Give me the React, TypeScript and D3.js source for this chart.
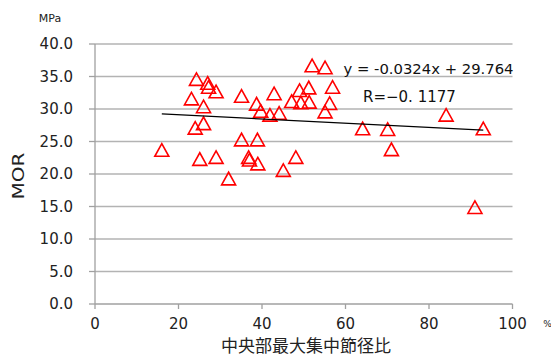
import React from "react";
import * as d3 from "d3";

// Knot diameter ratio at mid-span (%) vs. modulus of rupture (MPa)
const knotRatio = [
  16.0, 23.1, 24.3, 24.0, 25.1, 26.0, 26.0, 27.0, 27.2, 29.0,
  29.0, 32.0, 35.1, 35.1, 36.8, 37.0, 38.9, 39.0, 38.7, 39.7,
  41.9, 42.9, 44.1, 45.1, 47.1, 48.1, 49.0, 49.3, 51.2, 51.3,
  52.0, 55.1, 56.9, 56.2, 55.1, 64.1, 70.1, 71.0, 84.1, 93.0,
  91.0,
];
const mor = [
  23.7, 31.6, 34.6, 27.1, 22.3, 30.4, 27.8, 34.0, 33.4, 32.7,
  22.6, 19.3, 32.0, 25.3, 22.6, 22.2, 25.3, 21.6, 30.8, 29.7,
  29.1, 32.4, 29.4, 20.6, 31.2, 22.6, 32.9, 31.0, 33.3, 31.1,
  36.7, 36.4, 33.4, 30.9, 29.6, 27.0, 26.9, 23.8, 29.1, 27.0,
  14.9,
];

const xTicks = [0, 20, 40, 60, 80, 100];
const yTicks = [0, 5, 10, 15, 20, 25, 30, 35, 40];

const SLOPE = -0.0324;
const INTERCEPT = 29.764;
const equationText = "y = -0.0324x + 29.764";
const rText = "R=\u22120. 1177";
const xTitle = "中央部最大集中節径比";
const yTitle = "MOR";
const yUnit = "MPa";
const xUnit = "%";

const W = 551;
const H = 356;
const left = 95;
const right = 512.5;
const top = 44;
const bottom = 304;

const font = "'DejaVu Sans', sans-serif";
const gridColor = "#b3b3b3";
const axisColor = "#a0a0a0";

export default function App() {
  const x = d3.scaleLinear().domain([0, 100]).range([left, right]);
  const y = d3.scaleLinear().domain([0, 40]).range([bottom, top]);

  const points = knotRatio.map((v, i) => ({ x: v, y: mor[i] }));
  const [xMin, xMax] = d3.extent(knotRatio) as [number, number];
  const trend = d3
    .line<number>()
    .x((v) => x(v))
    .y((v) => y(SLOPE * v + INTERCEPT))([xMin, xMax]);

  // Outline triangle marker centred on its bounding box
  const tw = 7;
  const th = 6.3;
  const tri = (cx: number, cy: number) => {
    const p = d3.path();
    p.moveTo(cx, cy - th);
    p.lineTo(cx + tw, cy + th);
    p.lineTo(cx - tw, cy + th);
    p.closePath();
    return p.toString();
  };

  return (
    <svg
      width={W}
      height={H}
      style={{ position: "absolute", left: 0, top: 0, background: "#fff" }}
    >
      {/* horizontal gridlines */}
      {yTicks
        .filter((t) => t > 0)
        .map((t) => (
          <line
            key={"g" + t}
            x1={x(0)}
            x2={x(100)}
            y1={y(t)}
            y2={y(t)}
            stroke={gridColor}
            strokeWidth={1.3}
          />
        ))}
      {/* y axis */}
      <line x1={left} x2={left} y1={y(40)} y2={y(0)} stroke={axisColor} strokeWidth={1.3} />
      {yTicks.map((t) => (
        <g key={"yt" + t}>
          <line x1={left - 6} x2={left} y1={y(t)} y2={y(t)} stroke={axisColor} strokeWidth={1.3} />
          <text
            x={73}
            y={y(t)}
            dy="0.36em"
            textAnchor="end"
            fontFamily={font}
            fontSize={15}
            fill="#222"
          >
            {t.toFixed(1)}
          </text>
        </g>
      ))}
      {/* x axis */}
      <line x1={x(0)} x2={x(100)} y1={bottom} y2={bottom} stroke={axisColor} strokeWidth={1.3} />
      {xTicks.map((t) => (
        <g key={"xt" + t}>
          <line x1={x(t)} x2={x(t)} y1={bottom} y2={bottom + 5} stroke={axisColor} strokeWidth={1.3} />
          <text
            x={x(t)}
            y={323.5}
            dy="0.36em"
            textAnchor="middle"
            fontFamily={font}
            fontSize={15}
            fill="#222"
          >
            {t}
          </text>
        </g>
      ))}
      <text x={547.5} y={324} dy="0.36em" textAnchor="middle" fontFamily={font} fontSize={9} fill="#222">
        {xUnit}
      </text>
      <text x={50} y={18.5} dy="0.36em" textAnchor="middle" fontFamily={font} fontSize={11} fill="#222">
        {yUnit}
      </text>

      {/* axis titles */}
      <text
        x={306}
        y={346}
        dy="0.36em"
        textAnchor="middle"
        fontFamily="'Noto Sans CJK JP', sans-serif"
        fontSize={17}
        fill="#222"
      >
        {xTitle}
      </text>
      <text
        transform={`translate(18.5,176) rotate(-90)`}
        dy="0.36em"
        textAnchor="middle"
        fontFamily={font}
        fontSize={16}
        textLength={47}
        lengthAdjust="spacingAndGlyphs"
        fill="#222"
      >
        {yTitle}
      </text>

      {/* data markers */}
      {points.map((d, i) => (
        <path
          key={"p" + i}
          d={tri(x(d.x), y(d.y))}
          fill="none"
          stroke="#ff0000"
          strokeWidth={1.6}
          strokeLinejoin="miter"
        />
      ))}

      {/* linear trendline */}
      <path d={trend ?? ""} fill="none" stroke="#000" strokeWidth={1.2} />

      {/* regression annotation */}
      <text x={343.5} y={73.5} fontFamily={font} fontSize={14.8} fill="#111">
        {equationText}
      </text>
      <text x={363} y={101.5} fontFamily={font} fontSize={15} fill="#111">
        {rText}
      </text>
    </svg>
  );
}
